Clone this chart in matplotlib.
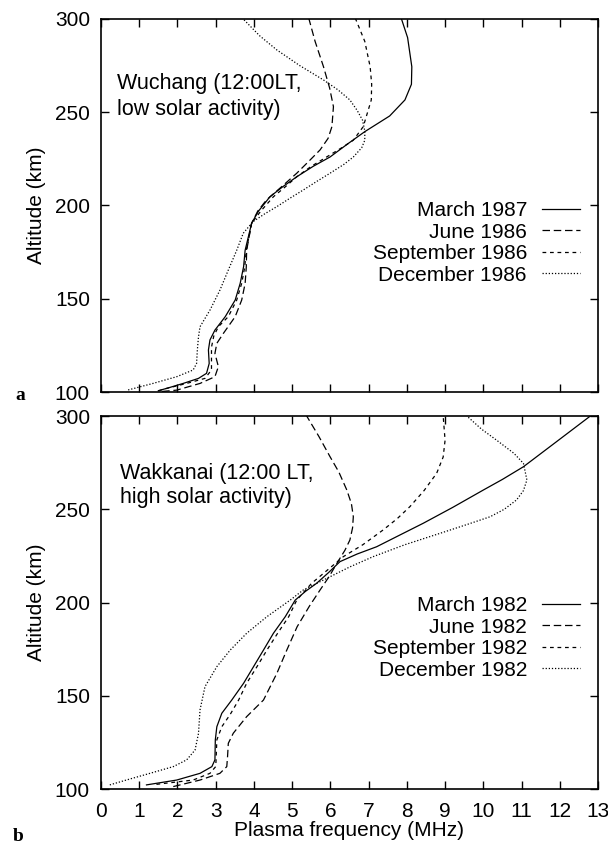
import matplotlib
matplotlib.use("Agg")
import matplotlib.pyplot as plt

plt.rcParams['font.family'] = ['Liberation Sans', 'DejaVu Sans']

# ---------------- Panel a: Wuchang ----------------
alt_a_mar = [100.7, 101.9, 104.6, 107.3, 110, 115.3, 122.5, 127.9, 133.2, 140.4, 149.3, 158.2, 167.2, 176,
             190.5, 197, 204.7, 210, 215.4, 221, 226, 233, 239.6, 248, 256.6, 265, 274.4, 290, 300]
f_a_mar   = [1.5, 1.71, 2.15, 2.55, 2.76, 2.83, 2.81, 2.85, 2.98, 3.25, 3.51, 3.64, 3.73, 3.77,
             3.94, 4.12, 4.42, 4.75, 5.12, 5.55, 5.99, 6.45, 6.9, 7.55, 7.95, 8.12, 8.13, 8.02, 7.86]

alt_a_jun = [100.3, 101, 104.6, 108.2, 113.6, 120.7, 126.1, 131.4, 140.4, 149.3, 158.2, 167, 176,
             190.5, 197, 203, 210, 217.3, 224, 229.8, 236, 242.3, 253, 263, 274.4, 288, 300]
f_a_jun   = [1.6, 1.98, 2.59, 2.98, 3.07, 2.98, 3.03, 3.2, 3.51, 3.68, 3.77, 3.8, 3.81,
             3.94, 4.1, 4.33, 4.72, 5.12, 5.45, 5.73, 5.94, 6.04, 6.08, 5.98, 5.82, 5.6, 5.44]

alt_a_sep = [100.6, 101.9, 104.6, 107.3, 111.8, 118, 124, 130, 135, 140.4, 149.3, 158.3, 167, 176,
             190.5, 197, 204.7, 210, 215.4, 221, 226, 231, 235, 242.3, 256.6, 265, 274.4, 288, 300]
f_a_sep   = [1.5, 1.71, 2.24, 2.72, 2.89, 2.89, 2.89, 2.95, 3.07, 3.33, 3.55, 3.68, 3.76, 3.8,
             3.94, 4.18, 4.51, 4.82, 5.12, 5.5, 5.9, 6.3, 6.6, 6.86, 7.07, 7.08, 7.04, 6.9, 6.66]

alt_a_dec = [101.1, 104.6, 108.2, 111.8, 115.3, 122.5, 129.6, 135, 143.9, 154.6, 165.4, 176, 185.1,
             191.4, 195.5, 199.4, 204, 208.3, 213, 217.3, 222, 226, 231, 235, 240, 245.8, 251, 256.6,
             262, 267.3, 275, 283.4, 291, 300]
f_a_dec   = [0.71, 1.36, 1.98, 2.41, 2.5, 2.52, 2.55, 2.59, 2.85, 3.11, 3.33, 3.55, 3.72,
             3.98, 4.28, 4.6, 4.95, 5.29, 5.65, 5.99, 6.35, 6.6, 6.82, 6.9, 6.9, 6.84, 6.7, 6.51,
             6.2, 5.82, 5.2, 4.6, 4.15, 3.72]

# ---------------- Panel b: Wakkanai ----------------
alt_b_mar = [102.2, 104.8, 108.4, 112, 115.6, 126.3, 133.4, 140.6, 147.7, 156.7, 165.6, 174.5, 183.5,
             192.4, 201.3, 206, 210.3, 216, 221.9, 226, 229.9, 236, 242.5, 251, 260.3, 266, 272.8, 286, 300]
f_b_mar   = [1.19, 1.98, 2.59, 2.9, 2.98, 2.99, 3.03, 3.16, 3.42, 3.73, 3.99, 4.25, 4.51,
             4.82, 5.08, 5.35, 5.64, 5.95, 6.25, 6.7, 7.21, 7.8, 8.43, 9.2, 10.0, 10.5, 11.05, 11.9, 12.8]

alt_b_jun = [101.3, 104.8, 108.4, 112, 117.3, 124.5, 129.9, 138.8, 147.7, 162, 174.5, 187, 198,
             206.7, 214, 221, 228, 233.5, 240, 246, 253, 260.3, 270, 278.2, 289, 300]
f_b_jun   = [1.89, 2.59, 3.11, 3.29, 3.31, 3.33, 3.46, 3.81, 4.25, 4.6, 4.86, 5.13, 5.45,
             5.73, 5.97, 6.17, 6.38, 6.51, 6.58, 6.6, 6.55, 6.43, 6.22, 5.99, 5.7, 5.38]

alt_b_sep = [102.5, 104.8, 108.4, 112, 115.6, 126.3, 133.4, 140, 147.7, 156.7, 165.6, 174.5, 183.5,
             192.4, 201.3, 210.3, 217, 224.6, 231, 238.9, 245, 251.4, 260, 269.3, 278, 287, 300]
f_b_sep   = [1.45, 2.41, 2.85, 3.0, 3.01, 3.03, 3.16, 3.38, 3.6, 3.81, 4.08, 4.34, 4.62,
             4.91, 5.12, 5.51, 5.9, 6.34, 6.85, 7.38, 7.75, 8.08, 8.45, 8.78, 8.95, 9.0, 8.95]

alt_b_dec = [102.2, 104.8, 108.4, 112, 115.6, 120.9, 129.8, 142.4, 154.9, 165.6, 174.5, 183.5, 192.4,
             201.3, 206.7, 213.8, 219, 224.6, 231, 237.1, 242, 246, 250, 255, 260, 265.7, 274.6, 280,
             287, 293, 300]
f_b_dec   = [0.23, 0.66, 1.28, 1.89, 2.24, 2.46, 2.55, 2.59, 2.72, 3.03, 3.38, 3.81, 4.34,
             4.95, 5.29, 5.99, 6.5, 7.12, 7.95, 8.87, 9.6, 10.18, 10.55, 10.87, 11.05, 11.14, 11.05, 10.8,
             10.35, 9.95, 9.57]

labels_a = ["March 1987", "June 1986", "September 1986", "December 1986"]
labels_b = ["March 1982", "June 1982", "September 1982", "December 1982"]

x_ticks = list(range(0, 14))
y_ticks = [100, 150, 200, 250, 300]

styles = [
    dict(linestyle='-', linewidth=0.9),
    dict(linestyle=(0, (6, 3)), linewidth=0.9),
    dict(linestyle=(0, (3, 3)), linewidth=0.9),
    dict(linestyle=(0, (1, 1.5)), linewidth=0.9),
]

FS = 15
W, H = 608, 847
fig = plt.figure(figsize=(W / 100, H / 100), dpi=100)

def ax_rect(l, t, r, b):
    return [l / W, 1 - b / H, (r - l) / W, (b - t) / H]

ax_a = fig.add_axes(ax_rect(101, 19, 598, 392))
ax_b = fig.add_axes(ax_rect(101, 416, 598, 789))

def setup(ax, show_x):
    ax.set_xlim(0, 13)
    ax.set_ylim(100, 300)
    ax.set_xticks(x_ticks)
    ax.set_yticks(y_ticks)
    ax.tick_params(direction='in', length=6, width=1.0, top=True, right=True,
                   labelsize=FS, pad=8, colors='black')
    ax.tick_params(axis='x', pad=9)
    if not show_x:
        ax.set_xticklabels([])
    for s in ax.spines.values():
        s.set_linewidth(1.2)
    ax.set_ylabel("Altitude (km)", fontsize=FS, labelpad=6)

setup(ax_a, False)
setup(ax_b, True)

series_a = [(f_a_mar, alt_a_mar), (f_a_jun, alt_a_jun), (f_a_sep, alt_a_sep), (f_a_dec, alt_a_dec)]
series_b = [(f_b_mar, alt_b_mar), (f_b_jun, alt_b_jun), (f_b_sep, alt_b_sep), (f_b_dec, alt_b_dec)]

for ax, series, labels, yc in [(ax_a, series_a, labels_a, 0.40), (ax_b, series_b, labels_b, 0.405)]:
    handles = []
    for (f, a), st, lab in zip(series, styles, labels):
        h, = ax.plot(f, a, color='black', label=lab, **st)
        handles.append(h)
    leg = ax.legend(handles=handles, loc='center right', bbox_to_anchor=(0.964, yc),
                    frameon=False, fontsize=FS, markerfirst=False, handlelength=1.83,
                    handletextpad=0.72, labelspacing=0.12, borderaxespad=0, borderpad=0)
    for t in leg.get_texts():
        t.set_ha('right')

ax_a.text(0.032, 0.855, "Wuchang (12:00LT,\nlow solar activity)", transform=ax_a.transAxes,
          fontsize=15.5, va='top', ha='left', linespacing=1.3)
ax_b.text(0.038, 0.874, "Wakkanai (12:00 LT,\nhigh solar activity)", transform=ax_b.transAxes,
          fontsize=15.5, va='top', ha='left', linespacing=1.2)

ax_b.set_xlabel("Plasma frequency (MHz)", fontsize=FS, labelpad=0)

fig.text(20 / W, 1 - 396 / H, "a", fontsize=14, fontweight='bold',
         family=['Liberation Serif', 'DejaVu Serif'], ha='center', va='center')
fig.text(18 / W, 1 - 836 / H, "b", fontsize=14, fontweight='bold',
         family=['Liberation Serif', 'DejaVu Serif'], ha='center', va='center')

fig.savefig("out.png", dpi=100)
